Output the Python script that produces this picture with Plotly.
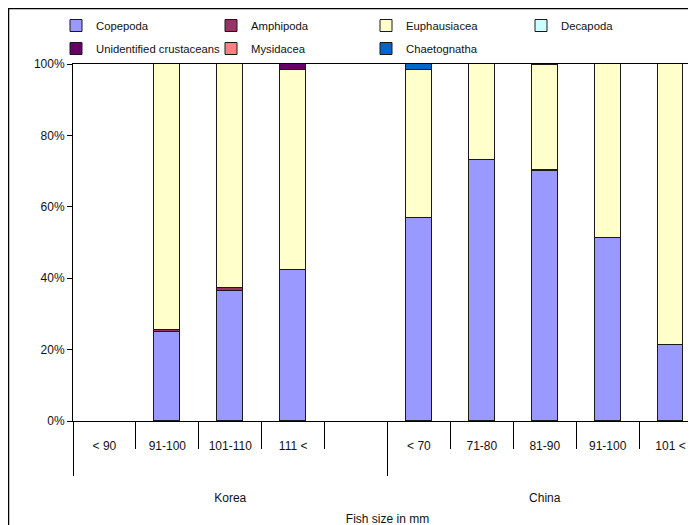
import plotly.graph_objects as go

# ---------------- data ----------------
size_classes = ["< 90", "91-100", "101-110", "111 <", "", "< 70", "71-80", "81-90", "91-100", "101 <"]
groups = ["Korea", "China"]
group_sizes = [5, 5]

copepoda      = [None, 25.0, 36.5, 42.3, None, 56.9, 73.0, 70.0, 51.3, 21.4]
amphipoda     = [None, 0.4, 0.8, None, None, None, None, 0.4, None, None]
euphausiacea  = [None, 74.6, 62.7, 56.0, None, 41.4, 27.0, 29.2, 48.7, 78.6]
decapoda      = [None] * 10
unidentified  = [None, None, None, 1.7, None, None, None, 0.4, None, None]
mysidacea     = [None] * 10
chaetognatha  = [None, None, None, None, None, 1.7, None, None, None, None]

series = [
    ("Copepoda", copepoda, "#9999FF", "legend"),
    ("Amphipoda", amphipoda, "#993366", "legend"),
    ("Euphausiacea", euphausiacea, "#FFFFCC", "legend"),
    ("Decapoda", decapoda, "#CCFFFF", "legend"),
    ("Unidentified crustaceans", unidentified, "#660066", "legend2"),
    ("Mysidacea", mysidacea, "#FF8080", "legend2"),
    ("Chaetognatha", chaetognatha, "#0066CC", "legend2"),
]

y_ticks = [0, 20, 40, 60, 80, 100]

FONT = "Liberation Sans, Arial, sans-serif"
W, H = 696, 525
ML, MR, MT, MB = 65, 2, 56, 112
PW, PH = W - ML - MR, H - MT - MB

xs = list(range(len(size_classes)))

fig = go.Figure()
for name, vals, color, leg in series:
    fig.add_trace(go.Bar(
        x=xs, y=vals, name=name, legend=leg,
        marker=dict(color=color, line=dict(color="#1a1a1a", width=1)),
        width=0.41,
    ))

# group boundaries and centres
bounds = [-0.5]
for s in group_sizes:
    bounds.append(bounds[-1] + s)
centres = [(bounds[i] + bounds[i + 1]) / 2 for i in range(len(groups))]

# invisible trace so that the group axis is drawn
fig.add_trace(go.Scatter(x=centres, y=[0, 0], xaxis="x2", mode="markers",
                         marker=dict(opacity=0), showlegend=False, hoverinfo="skip"))

xrange = [-0.5, len(size_classes) - 0.5]

legend_common = dict(
    orientation="h", xanchor="left", yanchor="top",
    entrywidth=110, entrywidthmode="pixels", itemwidth=30,
    traceorder="normal", font=dict(size=11.3, family=FONT, color="#111"),
    bgcolor="rgba(0,0,0,0)",
)

fig.update_layout(
    width=W, height=H,
    barmode="stack",
    bargap=0,
    paper_bgcolor="white", plot_bgcolor="white",
    font=dict(family=FONT, size=12, color="#111"),
    margin=dict(l=ML, r=MR, t=MT, b=MB, autoexpand=False),
    showlegend=True,
    legend=dict(x=-17 / PW, y=1 + (MT - 3) / PH, **legend_common),
    legend2=dict(x=-17 / PW, y=1 + (MT - 26) / PH, **legend_common),
    xaxis=dict(
        range=xrange, tickmode="array", tickvals=xs, ticktext=size_classes,
        ticks="", showgrid=False, zeroline=False,
        showline=True, linecolor="black", linewidth=1, mirror=True,
        minor=dict(tickmode="array", tickvals=[b - 0.5 for b in range(len(size_classes) + 1)],
                   ticks="outside", ticklen=27, tickcolor="black", tickwidth=1, showgrid=False),
        ticklabelstandoff=14,
        tickfont=dict(size=12),
    ),
    xaxis2=dict(
        overlaying="x", anchor="y", side="bottom",
        range=xrange, tickmode="array", tickvals=centres, ticktext=groups,
        ticks="", showgrid=False, zeroline=False, showline=False,
        minor=dict(tickmode="array", tickvals=bounds, ticks="outside", ticklen=54,
                   tickcolor="black", tickwidth=1, showgrid=False),
        ticklabelstandoff=68,
        tickfont=dict(size=12),
        title=dict(text="Fish size in mm", font=dict(size=12), standoff=10),
    ),
    yaxis=dict(
        range=[0, 100], tickmode="array", tickvals=y_ticks,
        ticktext=[f"{v}%" for v in y_ticks],
        ticks="outside", ticklen=5, tickcolor="black",
        showgrid=False, zeroline=False,
        showline=True, linecolor="black", linewidth=1,
        tickfont=dict(size=12),
    ),
    shapes=[dict(
        type="rect", xref="paper", yref="paper",
        x0=(0.5 - ML) / PW, x1=(W - 0.5 - ML) / PW, y0=-(MB - 0.5) / PH, y1=1 + (MT - 0.5) / PH,
        line=dict(color="black", width=1.5), fillcolor="rgba(0,0,0,0)", layer="below",
    )],
)

fig.write_html("out.html")
